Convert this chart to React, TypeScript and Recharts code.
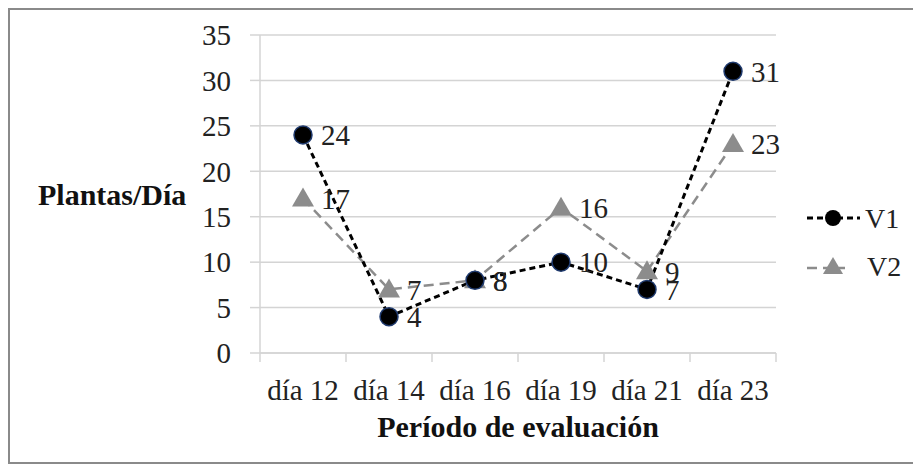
import { LineChart, Line, XAxis, YAxis, CartesianGrid, LabelList } from "recharts";

const dias = ["día 12", "día 14", "día 16", "día 19", "día 21", "día 23"];
const v1 = [24, 4, 8, 10, 7, 31];
const v2 = [17, 7, 8, 16, 9, 23];
const yTicks = [0, 5, 10, 15, 20, 25, 30, 35];

const data = dias.map((d, i) => ({ dia: d, V1: v1[i], V2: v2[i] }));

const FONT = "Liberation Serif, Times New Roman, serif";
const GRID = "#d4d4d4";
const BAND = 86;
const FS = 29;

const Triangle = (props: any) => {
    const { cx, cy } = props;
    if (cx == null || cy == null) return null;
    return <polygon points={`${cx},${cy - 11} ${cx + 11},${cy + 8} ${cx - 11},${cy + 8}`} fill="#8c8c8c" />;
};

const XTick = (props: any) => {
    const { x, y, payload, index } = props;
    const top = y - 8;
    return (
        <g>
            <line x1={x - BAND / 2} y1={top} x2={x - BAND / 2} y2={top + 9} stroke={GRID} strokeWidth={1.5} />
            {index === dias.length - 1 && (
                <line x1={x + BAND / 2} y1={top} x2={x + BAND / 2} y2={top + 9} stroke={GRID} strokeWidth={1.5} />
            )}
            <text x={x} y={top + 47} textAnchor="middle" style={{ fontFamily: FONT }} fontSize={FS} fill="#222">
                {payload.value}
            </text>
        </g>
    );
};

const LegendBox = () => (
    <svg width={130} height={110} style={{ position: "absolute", left: 780, top: 180, fontFamily: FONT }}>
        <line x1={17} y1={28} x2={70} y2={28} stroke="#000" strokeWidth={3} strokeDasharray="6 4" />
        <circle cx={43} cy={28} r={8} fill="#000" />
        <text x={75} y={38} fontSize={28} fill="#222">V1</text>
        <line x1={17} y1={78} x2={55} y2={78} stroke="#8c8c8c" strokeWidth={2.5} strokeDasharray="10 6" />
        <polygon points="43,67 53,84 33,84" fill="#8c8c8c" />
        <text x={77} y={86} fontSize={28} fill="#222">V2</text>
    </svg>
);

function App() {
    return (
        <div style={{ width: 904, height: 452, border: "2px solid #8a8a8a", position: "relative", background: "#fff", fontFamily: FONT }}>
            <LineChart width={904} height={452} data={data} margin={{ top: 25, right: 138, bottom: 19, left: 0 }} style={{ fontFamily: FONT }}>
                <CartesianGrid horizontal={true} vertical={false} stroke={GRID} strokeWidth={1.5} />
                <XAxis
                    dataKey="dia"
                    stroke={GRID}
                    strokeWidth={1.5}
                    tickLine={false}
                    tick={<XTick />}
                    height={90}
                    interval={0}
                    padding={{ left: BAND / 2, right: BAND / 2 }}
                    label={{ value: "Período de evaluación", position: "insideBottom", offset: 6, style: { fontFamily: FONT }, fontSize: 30, fontWeight: "bold", fill: "#111" }}
                />
                <YAxis
                    domain={[0, 35]}
                    ticks={yTicks}
                    width={250}
                    stroke={GRID}
                    strokeWidth={1.5}
                    tickSize={10}
                    tickMargin={19}
                    tickLine={{ stroke: GRID, strokeWidth: 1.5 }}
                    tick={{ style: { fontFamily: FONT }, fontSize: FS, fill: "#222" }}
                    label={{ value: "Plantas/Día", position: "insideLeft", offset: 28, style: { fontFamily: FONT }, fontSize: 30, fontWeight: "bold", fill: "#111", textAnchor: "start" }}
                />
                <Line
                    dataKey="V2"
                    stroke="#8c8c8c"
                    strokeWidth={2.5}
                    strokeDasharray="10 6"
                    dot={<Triangle />}
                    isAnimationActive={false}
                >
                    <LabelList dataKey="V2" position="right" offset={18} style={{ fontFamily: FONT }} fontSize={FS} fill="#222" />
                </Line>
                <Line
                    dataKey="V1"
                    stroke="#000"
                    strokeWidth={3}
                    strokeDasharray="6 4"
                    dot={{ r: 9, fill: "#000", stroke: "#1f3a6e", strokeWidth: 1.5, strokeDasharray: "" }}
                    isAnimationActive={false}
                >
                    <LabelList dataKey="V1" position="right" offset={18} style={{ fontFamily: FONT }} fontSize={FS} fill="#222" />
                </Line>
            </LineChart>
            <LegendBox />
        </div>
    );
}

export default App;
